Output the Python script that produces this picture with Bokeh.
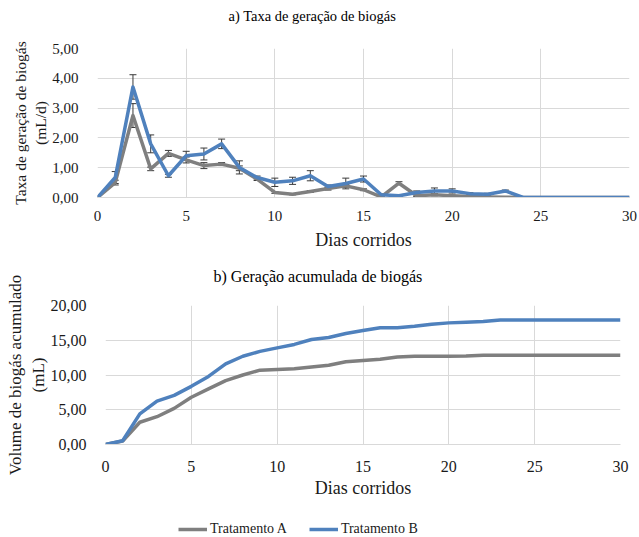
from bokeh.plotting import figure
from bokeh.layouts import column
from bokeh.models import ColumnDataSource, Whisker, FixedTicker, Legend, LegendItem, Title
from bokeh.embed import file_html
from bokeh.resources import INLINE

# ---------------- data ----------------
days = list(range(0, 31))

# a) Taxa de geração de biogás (mL/d)
rate_a = [0.00, 0.50, 2.75, 0.96, 1.48, 1.26, 1.07, 1.12, 0.98, 0.62, 0.17,
          0.11, 0.20, 0.30, 0.39, 0.26, 0.02, 0.48, 0.06, 0.09, 0.06, 0.03,
          0.02, 0.01, 0.00, 0.00, 0.00, 0.00, 0.00, 0.00, 0.00]
rate_b = [0.00, 0.67, 3.71, 1.80, 0.73, 1.40, 1.46, 1.80, 1.01, 0.67, 0.51,
          0.56, 0.73, 0.37, 0.47, 0.62, 0.09, 0.06, 0.17, 0.22, 0.22, 0.13,
          0.11, 0.22, 0.00, 0.00, 0.00, 0.00, 0.00, 0.00, 0.00]
err_a = [0.00, 0.08, 0.40, 0.06, 0.10, 0.10, 0.10, 0.05, 0.08, 0.05, 0.03,
         0.02, 0.03, 0.05, 0.05, 0.03, 0.02, 0.05, 0.03, 0.03, 0.02, 0.02,
         0.02, 0.00, 0.00, 0.00, 0.00, 0.00, 0.00, 0.00, 0.00]
err_b = [0.00, 0.20, 0.41, 0.30, 0.05, 0.15, 0.20, 0.16, 0.22, 0.05, 0.14,
         0.12, 0.17, 0.05, 0.18, 0.10, 0.03, 0.03, 0.05, 0.10, 0.07, 0.03,
         0.03, 0.03, 0.00, 0.00, 0.00, 0.00, 0.00, 0.00, 0.00]

# b) Geração acumulada de biogás (mL)
cum_a = [0.0, 0.5, 3.2, 4.0, 5.2, 6.8, 8.0, 9.2, 10.0, 10.7, 10.8,
         10.9, 11.15, 11.4, 11.9, 12.1, 12.26, 12.6, 12.7, 12.7, 12.7, 12.74,
         12.84, 12.85, 12.85, 12.85, 12.85, 12.85, 12.85, 12.85, 12.85]
cum_b = [0.0, 0.53, 4.4, 6.25, 7.07, 8.37, 9.8, 11.6, 12.7, 13.4, 13.9,
         14.4, 15.1, 15.4, 15.96, 16.4, 16.8, 16.8, 17.0, 17.3, 17.5, 17.6,
         17.7, 17.9, 17.9, 17.9, 17.9, 17.9, 17.9, 17.9, 17.9]

x_ticks = [0, 5, 10, 15, 20, 25, 30]
y_ticks_a = [0, 1, 2, 3, 4, 5]
y_labels_a = ["0,00", "1,00", "2,00", "3,00", "4,00", "5,00"]
y_ticks_b = [0, 5, 10, 15, 20]
y_labels_b = ["0,00", "5,00", "10,00", "15,00", "20,00"]

series_names = ["Tratamento A", "Tratamento B"]
title_a = "a) Taxa de geração de biogás"
title_b = "b) Geração acumulada  de biogás"
xlabel = "Dias corridos"
ylabel_a = "Taxa de geração de biogás\n(mL/d)"
ylabel_b = "Volume de biogás acumulado\n(mL)"

# ---------------- style ----------------
FONT = "Liberation Serif"
GRAY = "#7f7f7f"
BLUE = "#4f81bd"
GRID = "#d9d9d9"
TXT = "#1a1a1a"


def style(p, yticks, ylabels, ylabel, tick_size, xlab_size, ylab_size,
          xstand, xlstand, ystand):
    p.toolbar.logo = None
    p.outline_line_color = None
    p.background_fill_color = "white"
    p.border_fill_color = "white"
    for ax in (p.xaxis[0], p.yaxis[0]):
        ax.major_tick_line_color = None
        ax.minor_tick_line_color = None
        ax.major_label_text_font = FONT
        ax.major_label_text_font_size = tick_size
        ax.major_label_text_color = TXT
        ax.axis_label_text_font = FONT
        ax.axis_label_text_font_style = "normal"
        ax.axis_label_text_color = TXT
    p.xaxis.axis_label_text_font_size = xlab_size
    p.yaxis.axis_label_text_font_size = ylab_size
    p.xaxis.ticker = FixedTicker(ticks=x_ticks)
    p.yaxis.ticker = FixedTicker(ticks=yticks)
    p.yaxis.major_label_overrides = {t: l for t, l in zip(yticks, ylabels)}
    p.xaxis.axis_line_color = GRID
    p.yaxis.axis_line_color = None
    p.xaxis.major_label_standoff = xstand
    p.yaxis.major_label_standoff = 13
    p.xaxis.axis_label = xlabel
    p.yaxis.axis_label = ylabel
    p.xaxis.axis_label_standoff = xlstand
    p.yaxis.axis_label_standoff = ystand
    p.xgrid.grid_line_color = GRID
    p.ygrid.grid_line_color = GRID
    p.xgrid.ticker = FixedTicker(ticks=x_ticks)
    p.ygrid.ticker = FixedTicker(ticks=yticks)


# ---------------- figure a ----------------
p1 = figure(width=639, height=258, x_range=(0, 30), y_range=(0, 5),
            output_backend="svg", toolbar_location=None, frame_align=False,
            min_border_left=97, min_border_right=10, min_border_top=48,
            min_border_bottom=61)
p1.add_layout(Title(text=title_a + "\n ", align="left", offset=131,
                    vertical_align="top", standoff=13, text_line_height=1.0,
                    text_font=FONT, text_font_size="14.5px",
                    text_font_style="normal", text_color="black"), "above")
style(p1, y_ticks_a, y_labels_a, ylabel_a, "15px", "18px", "15.5px", 7, 6, 0)

for rates, errs in ((rate_a, err_a), (rate_b, err_b)):
    idx = [i for i, e in enumerate(errs) if e > 0]
    src = ColumnDataSource(dict(
        x=[days[i] for i in idx],
        upper=[rates[i] + errs[i] for i in idx],
        lower=[rates[i] - errs[i] for i in idx],
    ))
    w = Whisker(base="x", upper="upper", lower="lower", source=src,
                line_color="#3a3a3a", line_width=1, dimension="height")
    w.upper_head.size = 7
    w.lower_head.size = 7
    w.upper_head.line_color = "#3a3a3a"
    w.lower_head.line_color = "#3a3a3a"
    p1.add_layout(w)

p1.line(days, rate_a, line_color=GRAY, line_width=3.5, line_join="round")
p1.line(days, rate_b, line_color=BLUE, line_width=3.5, line_join="round")

# ---------------- figure b ----------------
p2 = figure(width=639, height=255, x_range=(0, 30), y_range=(0, 20),
            output_backend="svg", toolbar_location=None, frame_align=False,
            min_border_left=105, min_border_right=19, min_border_top=47,
            min_border_bottom=69)
p2.add_layout(Title(text=title_b + "\n ", align="left", offset=108,
                    vertical_align="top", standoff=4, text_line_height=1.0,
                    text_font=FONT, text_font_size="16px",
                    text_font_style="normal", text_color="black"), "above")
style(p2, y_ticks_b, y_labels_b, ylabel_b, "16px", "18px", "17px", 10, 3, 0)

p2.line(days, cum_a, line_color=GRAY, line_width=3.5, line_join="round")
p2.line(days, cum_b, line_color=BLUE, line_width=3.5, line_join="round")

# ---------------- legend strip ----------------
p3 = figure(width=639, height=24, x_range=(0, 30), y_range=(100, 101),
            output_backend="svg", toolbar_location=None, frame_align=False,
            x_axis_location=None, y_axis_location=None, min_border=0)
p3.toolbar.logo = None
p3.outline_line_color = None
p3.xgrid.visible = False
p3.ygrid.visible = False
la = p3.line(days, cum_a, line_color=GRAY, line_width=3.5)
lb = p3.line(days, cum_b, line_color=BLUE, line_width=3.5)
legend = Legend(items=[LegendItem(label=series_names[0], renderers=[la]),
                       LegendItem(label=series_names[1], renderers=[lb])],
                orientation="horizontal", location=(178, 0),
                label_text_font=FONT, label_text_font_size="14px",
                label_text_color=TXT, glyph_width=29, glyph_height=16,
                label_standoff=3, spacing=22, padding=0, margin=0,
                border_line_color=None, background_fill_alpha=0)
p3.add_layout(legend, "center")

layout = column(p1, p2, p3, spacing=0)
open("out.html", "w").write(file_html(layout, INLINE))
